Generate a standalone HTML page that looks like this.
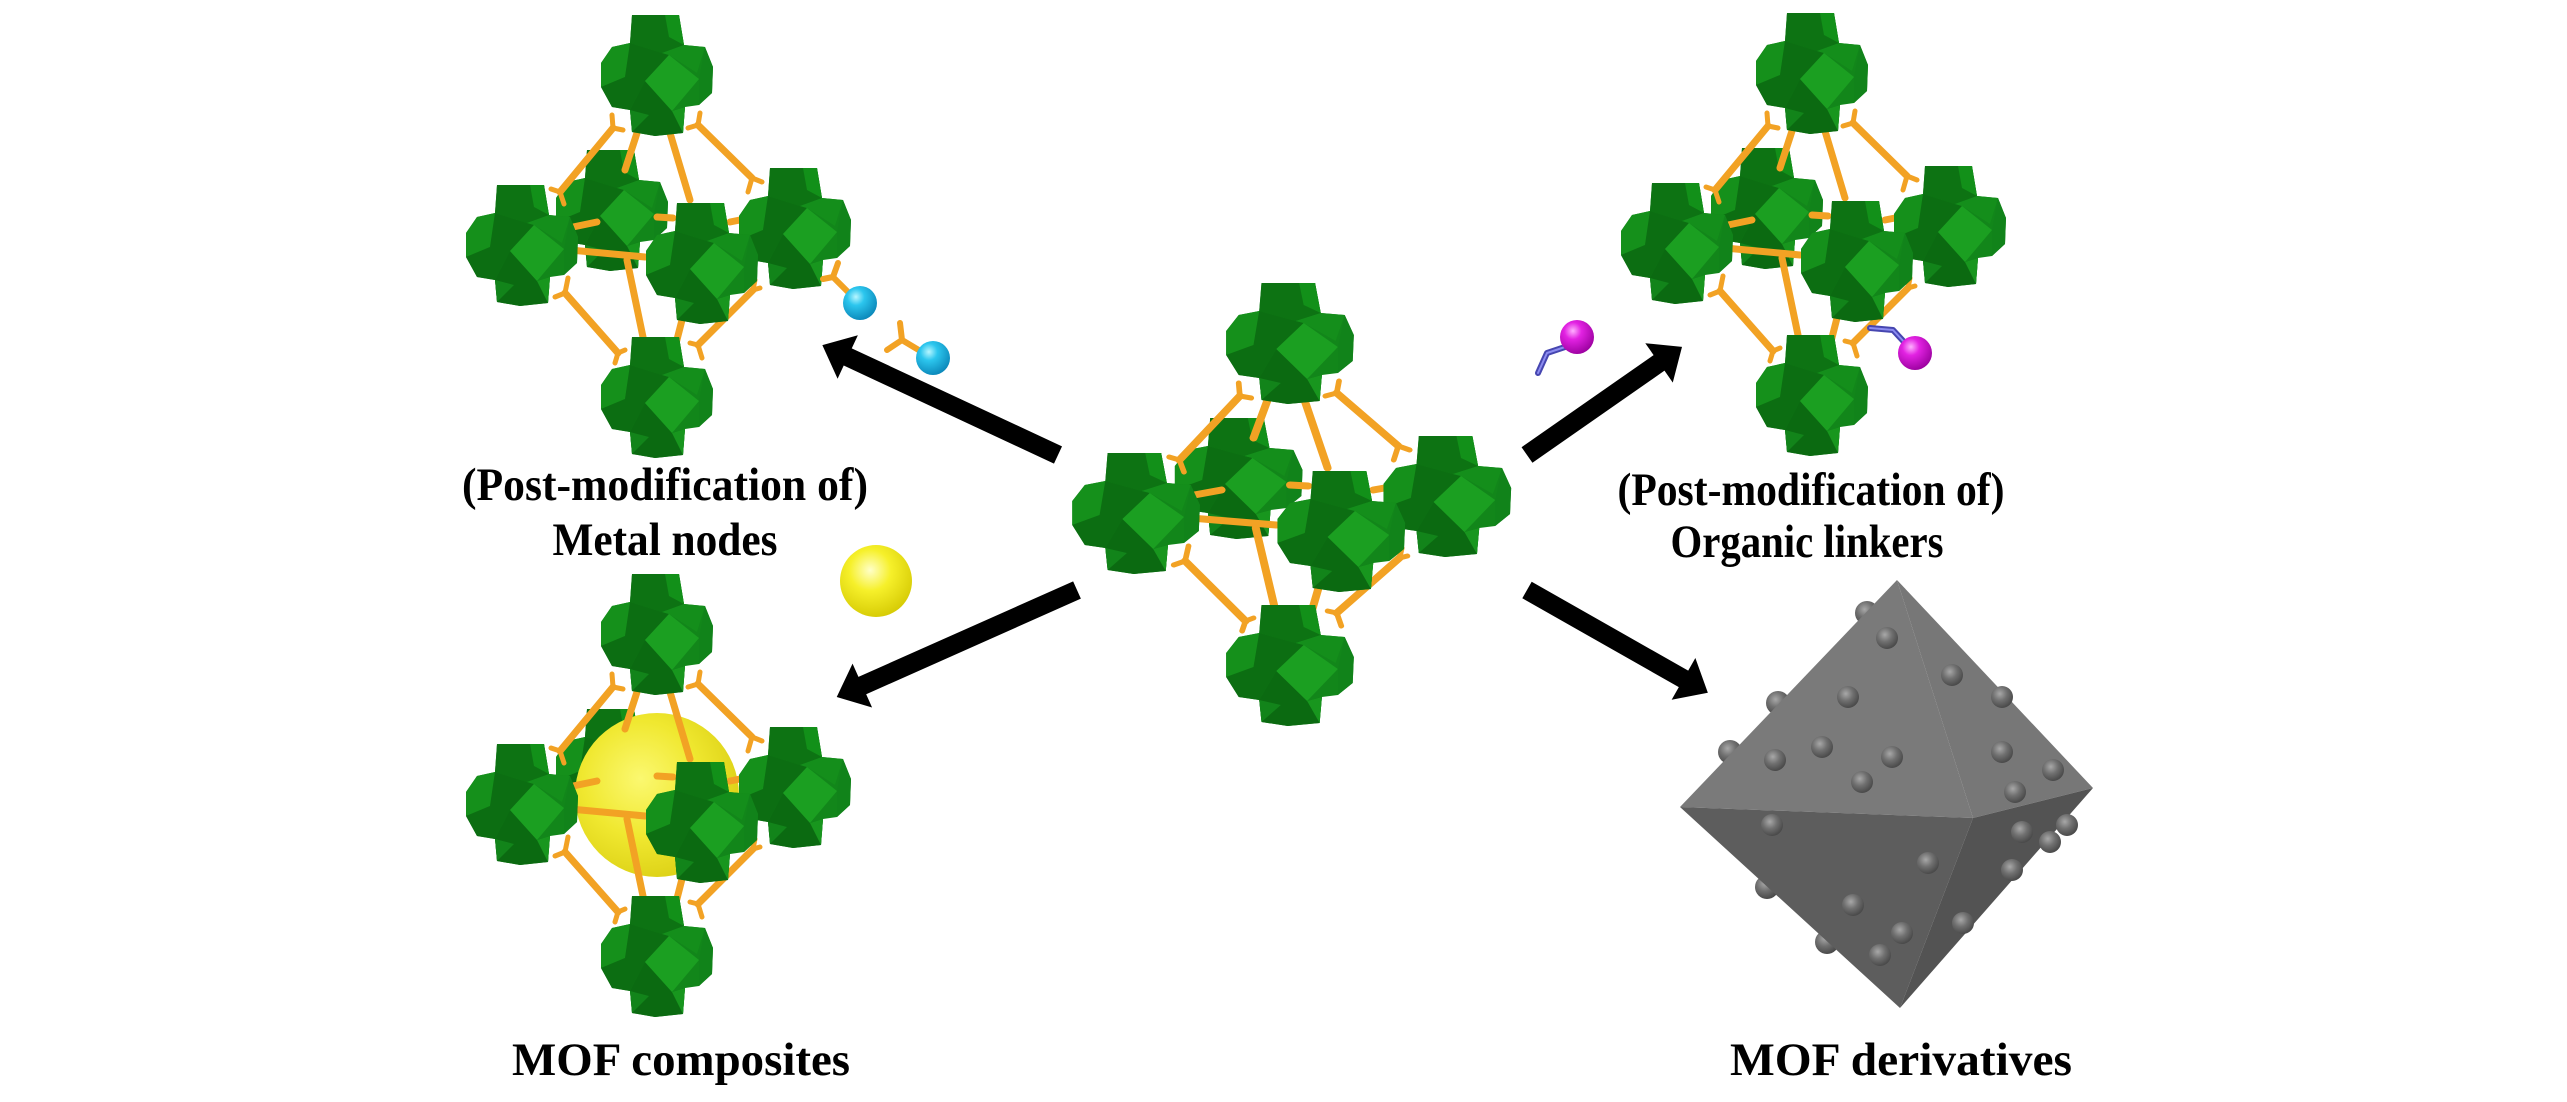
<!DOCTYPE html>
<html><head><meta charset="utf-8"><style>
html,body{margin:0;padding:0;background:#fff;}
svg{display:block;}
text{font-family:"Liberation Serif",serif;font-weight:bold;fill:#000;}
</style></head><body>
<svg width="2567" height="1102" viewBox="0 0 2567 1102" xmlns="http://www.w3.org/2000/svg">
<defs>
<radialGradient id="gBlue" cx="0.38" cy="0.32" r="0.72">
 <stop offset="0" stop-color="#b8f6ff"/><stop offset="0.35" stop-color="#2cc6ee"/><stop offset="1" stop-color="#0a86b8"/>
</radialGradient>
<radialGradient id="gMag" cx="0.38" cy="0.32" r="0.72">
 <stop offset="0" stop-color="#ffb0ff"/><stop offset="0.35" stop-color="#e222e2"/><stop offset="1" stop-color="#9a009e"/>
</radialGradient>
<radialGradient id="gYel" cx="0.42" cy="0.35" r="0.72">
 <stop offset="0" stop-color="#ffffc8"/><stop offset="0.4" stop-color="#f6f02a"/><stop offset="1" stop-color="#d2c600"/>
</radialGradient>
<radialGradient id="gYelBig" cx="0.4" cy="0.4" r="0.7">
 <stop offset="0" stop-color="#fbf870"/><stop offset="0.5" stop-color="#f0e830"/><stop offset="1" stop-color="#d8cc10"/>
</radialGradient>
<radialGradient id="gBump" cx="0.4" cy="0.35" r="0.65">
 <stop offset="0" stop-color="#a8a8a8"/><stop offset="0.5" stop-color="#707070"/><stop offset="1" stop-color="#4a4a4a"/>
</radialGradient>

<g id="cl">
 <polygon points="-25,-60 22,-60 27,-30 48,-28 56,-8 55,18 42,30 28,32 26,58 -2,61 -25,57 -27,35 -45,32 -56,12 -56,-12 -45,-28 -27,-32" fill="#12861a"/>
 <polygon points="-25,-60 22,-60 27,-30 5,-22 -27,-32" fill="#0d7313"/>
 <polygon points="8,-60 22,-60 27,-30 12,-38" fill="#129019"/>
 <polygon points="-56,-12 -45,-28 -27,-32 -32,2 -56,12" fill="#15901b"/>
 <polygon points="-32,2 -27,-32 5,-22 12,-20 -12,6 -27,35 -45,32 -56,12" fill="#0c6e12"/>
 <polygon points="5,-22 27,-30 48,-28 40,-2 12,-20" fill="#148e1b"/>
 <polygon points="48,-28 56,-8 55,18 42,30 42,4" fill="#11831a"/>
 <polygon points="-27,35 -12,6 15,36 28,32 26,58 -2,61 -25,57" fill="#0b6a11"/>
 <polygon points="-25,57 -27,35 -8,40" fill="#12841a"/>
 <polygon points="15,36 28,32 26,58" fill="#18961e"/>
 <polygon points="12,-20 42,4 15,36 -12,6" fill="#1b9f21"/>
</g>

<g id="mMid"><use href="#cl" x="-45" y="135"/></g>
<g id="mStr" fill="none" stroke="#f2a224" stroke-linecap="round">
 <g stroke-width="7">
  <line x1="-44" y1="53" x2="-97" y2="117"/>
  <line x1="41" y1="50" x2="95" y2="103"/>
  <line x1="-20" y1="58" x2="-32" y2="95"/>
  <line x1="13" y1="58" x2="33" y2="125"/>
  <line x1="-92" y1="218" x2="-39" y2="278"/>
  <line x1="-30" y1="185" x2="-14" y2="262"/>
  <line x1="96" y1="215" x2="41" y2="270"/>
  <line x1="25" y1="245" x2="13" y2="292"/>
  <line x1="-87" y1="175" x2="-12" y2="182"/>
  <line x1="-84" y1="152" x2="-60" y2="147"/>
  <line x1="0" y1="142" x2="16" y2="143"/>
  <line x1="73" y1="147" x2="83" y2="145"/>
  <line x1="96" y1="165" x2="116" y2="162"/>
 </g>
 <path stroke-width="5" d="M-44,53 L-45,40 M-44,53 L-34,55 M-97,117 L-106,114 M-97,117 L-93,129 M41,50 L43,38 M41,50 L31,53 M95,103 L105,107 M95,103 L91,117 M-92,218 L-89,203 M-92,218 L-102,222 M-39,278 L-32,275 M-39,278 L-42,288 M96,215 L103,213 M96,215 L98,205 M41,270 L33,268 M41,270 L45,283"/>
</g>
<g id="mFront">
 <use href="#cl" x="0" y="0"/>
 <use href="#cl" x="138" y="153"/>
 <use href="#cl" x="-135" y="170"/>
 <use href="#cl" x="0" y="322"/>
 <use href="#cl" x="45" y="188"/>
</g>
</defs>

<rect width="2567" height="1102" fill="#fff"/>

<!-- Top-left MOF -->
<g transform="translate(657,75)">
 <use href="#mMid"/><use href="#mStr"/><use href="#mFront"/>
</g>
<g fill="none" stroke="#f2a224" stroke-linecap="round" stroke-width="6">
 <path d="M833,277 L838,263 M833,277 L823,279 M833,277 L853,297"/>
 <path d="M902,340 L900,323 M902,340 L887,350 M902,340 L922,352"/>
</g>
<circle cx="860" cy="303" r="17" fill="url(#gBlue)"/>
<circle cx="933" cy="358" r="17" fill="url(#gBlue)"/>

<!-- Bottom-left MOF -->
<g transform="translate(657,634)">
 <use href="#mMid"/>
 <circle cx="0" cy="161" r="82" fill="url(#gYelBig)"/>
 <use href="#mStr"/><use href="#mFront"/>
</g>
<circle cx="876" cy="581" r="36" fill="url(#gYel)"/>

<!-- Center MOF -->
<g transform="translate(1290,343) scale(1.14,1)">
 <use href="#mMid"/><use href="#mStr"/><use href="#mFront"/>
</g>

<!-- Top-right MOF -->
<g transform="translate(1812,73)">
 <use href="#mMid"/><use href="#mStr"/><use href="#mFront"/>
</g>
<g fill="none" stroke-linecap="round" stroke-linejoin="round">
 <polyline points="1538,373 1547,353 1565,347" stroke="#4646b0" stroke-width="6"/>
 <polyline points="1538,373 1547,353 1565,347" stroke="#8c8cf0" stroke-width="2"/>
 <polyline points="1870,328 1893,330 1905,343" stroke="#4646b0" stroke-width="6"/>
 <polyline points="1870,328 1893,330 1905,343" stroke="#8c8cf0" stroke-width="2"/>
</g>
<circle cx="1577" cy="337" r="17" fill="url(#gMag)"/>
<circle cx="1915" cy="353" r="17" fill="url(#gMag)"/>

<!-- Arrows -->
<g fill="#000">
 <path transform="translate(1058,455) rotate(205)" d="M0,-9.5 L232,-9.5 L232,-24 L260,0 L232,24 L232,9.5 L0,9.5Z"/>
 <path transform="translate(1077,590) rotate(156)" d="M0,-9.5 L235,-9.5 L235,-24 L263,0 L235,24 L235,9.5 L0,9.5Z"/>
 <path transform="translate(1527,455) rotate(-34.9)" d="M0,-9.5 L161,-9.5 L161,-24 L189,0 L161,24 L161,9.5 L0,9.5Z"/>
 <path transform="translate(1527,590) rotate(29.6)" d="M0,-9.5 L180,-9.5 L180,-24 L208,0 L180,24 L180,9.5 L0,9.5Z"/>
</g>

<!-- Octahedron -->
<g>
 <circle cx="1867" cy="613" r="12" fill="url(#gBump)"/>
 <circle cx="1778" cy="703" r="12" fill="url(#gBump)"/>
 <circle cx="1730" cy="752" r="12" fill="url(#gBump)"/>
 <circle cx="1767" cy="887" r="12" fill="url(#gBump)"/>
 <circle cx="1827" cy="942" r="12" fill="url(#gBump)"/>
 <polygon points="1897,580 1680,807 1973,818" fill="#7a7a7a"/>
 <polygon points="1897,580 1973,818 2093,788" fill="#777777"/>
 <polygon points="1680,807 1973,818 1900,1008" fill="#5d5d5d"/>
 <polygon points="1973,818 2093,788 1900,1008" fill="#535353"/>
 <g fill="url(#gBump)">
  <circle cx="1887" cy="638" r="11"/>
  <circle cx="1952" cy="675" r="11"/>
  <circle cx="2002" cy="697" r="11"/>
  <circle cx="1848" cy="697" r="11"/>
  <circle cx="1822" cy="747" r="11"/>
  <circle cx="1775" cy="760" r="11"/>
  <circle cx="1892" cy="757" r="11"/>
  <circle cx="1862" cy="782" r="11"/>
  <circle cx="2002" cy="752" r="11"/>
  <circle cx="2053" cy="770" r="11"/>
  <circle cx="2015" cy="792" r="11"/>
  <circle cx="1772" cy="825" r="11"/>
  <circle cx="2022" cy="832" r="11"/>
  <circle cx="2067" cy="825" r="11"/>
  <circle cx="2050" cy="842" r="11"/>
  <circle cx="2012" cy="870" r="11"/>
  <circle cx="1928" cy="863" r="11"/>
  <circle cx="1853" cy="905" r="11"/>
  <circle cx="1902" cy="933" r="11"/>
  <circle cx="1880" cy="955" r="11"/>
  <circle cx="1963" cy="923" r="11"/>
 </g>
</g>

<!-- Labels -->
<g font-size="47" text-anchor="middle">
 <text x="665" y="500" textLength="406" lengthAdjust="spacingAndGlyphs">(Post-modification of)</text>
 <text x="665" y="555" textLength="225" lengthAdjust="spacingAndGlyphs">Metal nodes</text>
 <text x="1811" y="505" textLength="387" lengthAdjust="spacingAndGlyphs">(Post-modification of)</text>
 <text x="1807" y="557" textLength="273" lengthAdjust="spacingAndGlyphs">Organic linkers</text>
 <text x="681" y="1075" textLength="338" lengthAdjust="spacingAndGlyphs">MOF composites</text>
 <text x="1901" y="1075" textLength="342" lengthAdjust="spacingAndGlyphs">MOF derivatives</text>
</g>
</svg>
</body></html>
